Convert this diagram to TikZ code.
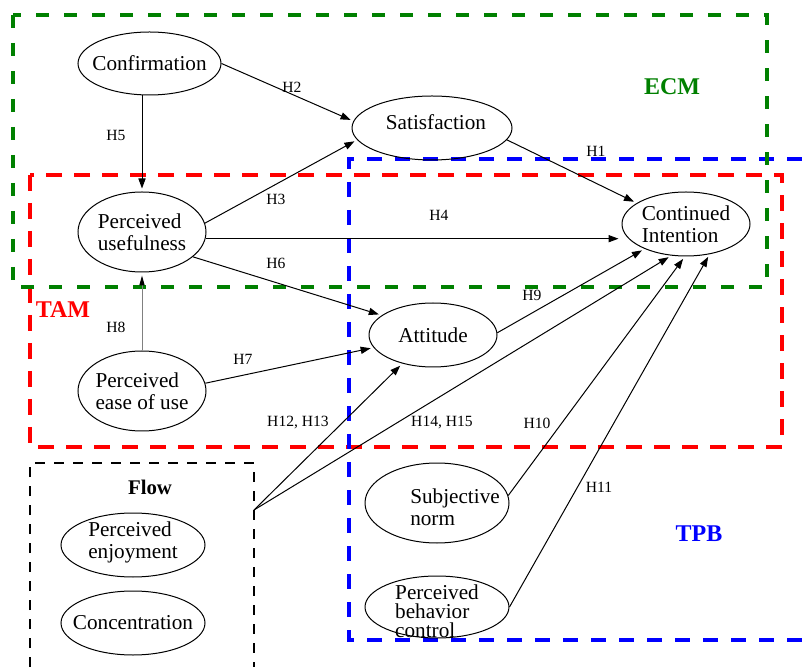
\documentclass[tikz,border=0pt]{standalone}
\usepackage{fontspec}
\setmainfont{Liberation Serif}
\usetikzlibrary{arrows.meta,shapes.geometric}
\definecolor{ecm}{HTML}{008000}
\definecolor{tam}{HTML}{FF0000}
\definecolor{tpb}{HTML}{0000FF}
\newcommand{\vfont}{\fontsize{10.6}{11}\selectfont}
\newcommand{\hfont}{\fontsize{7.8}{9}\selectfont}

\begin{document}
\begin{tikzpicture}[x=0.5pt,y=-0.5pt,
  var/.style={draw,ellipse,inner sep=0pt,line width=0.5pt},
  vtxt/.style={font=\vfont,align=left,inner sep=0pt},
  hyp/.style={font=\hfont,inner sep=0pt},
  link/.style={line width=0.5pt,shorten >=1.5pt,-{Triangle[length=5pt,width=3.6pt]}},
  frame/.style={line width=1.75pt},
  model/.style={font=\fontsize{12}{14}\selectfont\bfseries,inner sep=0pt}]
\useasboundingbox (0,0) rectangle (802,667);
% model frames
\draw[frame,tam,dash pattern=on 8pt off 6pt] (30,175) rectangle (782,447);
\draw[frame,tpb,dash pattern=on 7.5pt off 6.5pt] (802,159) -- (349,159) -- (349,640) -- (802,640);
\draw[frame,ecm,dash pattern=on 6.5pt off 7.5pt] (13,15) rectangle (767,287);
\draw[line width=1.25pt,dash pattern=on 5pt off 4.5pt] (30,667) -- (30,463) -- (254,463) -- (254,667);
\coordinate (flowout) at (254,510);
\node[model,ecm] (ecmlab) at (672,87) {ECM};
\node[model,tam] (tamlab) at (63,310) {TAM};
\node[model,tpb] (tpblab) at (699,534) {TPB};
\node[font=\fontsize{10.4}{12}\selectfont\bfseries,inner sep=0pt] (flowlab) at (150,487) {Flow};
% constructs
\node[var,minimum width=71.5pt,minimum height=31.5pt,label={[vtxt]center:Confirmation}] (conf) at (149.5,63.5) {};
\node[var,minimum width=80pt,minimum height=32pt,label={[vtxt,xshift=2pt,yshift=3pt]center:Satisfaction}] (sat) at (432,128) {};
\node[var,minimum width=64pt,minimum height=40pt,label={[vtxt]center:Perceived\\usefulness}] (pu) at (142,232) {};
\node[var,minimum width=64pt,minimum height=32pt,label={[vtxt]center:Continued\\Intention}] (ci) at (686,224) {};
\node[var,minimum width=64pt,minimum height=32pt,label={[vtxt]center:Attitude}] (att) at (433,335) {};
\node[var,minimum width=64pt,minimum height=40pt,label={[vtxt]center:Perceived\\ease of use}] (peou) at (142,391) {};
\node[var,minimum width=72pt,minimum height=32pt,label={[vtxt,yshift=1.5pt]center:Perceived\\enjoyment}] (pe) at (133,545) {};
\node[var,minimum width=72pt,minimum height=32pt,label={[vtxt]center:Concentration}] (conc) at (133,623) {};
\node[var,minimum width=72pt,minimum height=40pt,label={[vtxt,xshift=9pt,yshift=-2pt]center:Subjective\\norm}] (sn) at (437,503) {};
\node[var,minimum width=72pt,minimum height=31pt,label={[vtxt,font=\fontsize{10.6}{9.5}\selectfont,yshift=-2pt]center:Perceived\\behavior\\control}] (pbc) at (437,607) {};
% paths
\draw[link] (conf.east) -- (sat.175);
\draw[link] (pu.north |- conf.south) -- (pu.north);
\draw[link] (pu.8) -- (sat.189);
\draw[link] (pu.-6) -- (pu.-6 -| ci.west);
\draw[link] (pu.-26) -- (att.159);
\draw[link,gray,-{Triangle[length=5pt,width=2.6pt,black]}] (peou.north) -- (pu.south);
\draw[link] (peou.7) -- (att.192);
\draw[link] (sat.-9) -- (ci.157);
\draw[link] (att.2) -- (ci.211);
\draw[link] (flowout) -- (att.223);
\draw[link] (flowout) -- (ci.245);
\draw[link] (sn.6) -- (ci.268);
\draw[link] (pbc.east) -- (ci.308);
% hypotheses
\node[hyp] (h1) at (596,151) {H1};
\node[hyp] (h2) at (292,87) {H2};
\node[hyp] (h3) at (276,199) {H3};
\node[hyp] (h4) at (439,215) {H4};
\node[hyp] (h5) at (116,135) {H5};
\node[hyp] (h6) at (276,263) {H6};
\node[hyp] (h7) at (243,359) {H7};
\node[hyp] (h8) at (116,327) {H8};
\node[hyp] (h9) at (532,295) {H9};
\node[hyp] (h10) at (537,423) {H10};
\node[hyp] (h11) at (599,487) {H11};
\node[hyp] (h1213) at (298,423) {H12, H13};
\node[hyp] (h1415) at (442,423) {H14, H15};
\end{tikzpicture}
\end{document}
